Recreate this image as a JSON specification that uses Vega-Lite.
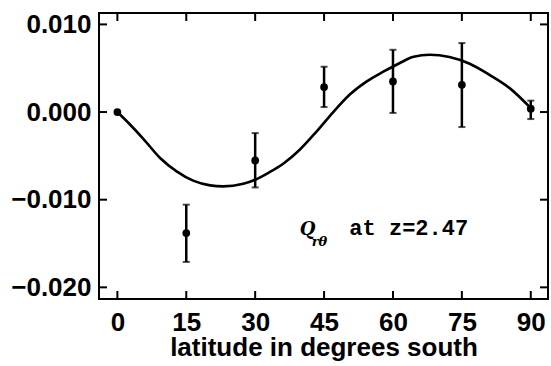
{
  "$schema": "https://vega.github.io/schema/vega-lite/v6.json",
  "width": 449,
  "height": 286,
  "autosize": {"type": "none"},
  "padding": {"left": 99, "top": 13, "right": 3, "bottom": 67},
  "background": "white",
  "config": {
    "view": {"stroke": "black", "strokeWidth": 2},
    "axis": {
      "domain": false,
      "grid": false,
      "ticks": false,
      "labelFont": "Liberation Sans",
      "labelFontWeight": "bold",
      "labelFontSize": 26,
      "labelColor": "black",
      "titleFont": "Liberation Sans",
      "titleFontWeight": "bold",
      "titleFontSize": 26,
      "titleColor": "black"
    }
  },
  "datasets": {
    "curve": [
      {"lat": 0, "q": 0},
      {"lat": 2.8, "q": -0.00145},
      {"lat": 5.7, "q": -0.00308},
      {"lat": 9.3, "q": -0.00524},
      {"lat": 12.9, "q": -0.00677},
      {"lat": 16.5, "q": -0.00783},
      {"lat": 20.2, "q": -0.00837},
      {"lat": 23, "q": -0.00848},
      {"lat": 27.4, "q": -0.00818},
      {"lat": 30, "q": -0.00772},
      {"lat": 33, "q": -0.0069},
      {"lat": 36.1, "q": -0.0059},
      {"lat": 39.7, "q": -0.0043},
      {"lat": 43.4, "q": -0.0022},
      {"lat": 47, "q": 0.0},
      {"lat": 50.6, "q": 0.002},
      {"lat": 54.3, "q": 0.0035},
      {"lat": 57.9, "q": 0.0046},
      {"lat": 61.5, "q": 0.0056},
      {"lat": 64.5, "q": 0.0063},
      {"lat": 68, "q": 0.00653},
      {"lat": 72.3, "q": 0.00627},
      {"lat": 76.7, "q": 0.00551},
      {"lat": 81, "q": 0.00425},
      {"lat": 85.4, "q": 0.00273},
      {"lat": 90, "q": 0.00045}
    ],
    "pts": [
      {"lat": 0, "q": 0.0},
      {"lat": 15, "q": -0.0138},
      {"lat": 30, "q": -0.00552},
      {"lat": 45, "q": 0.00285},
      {"lat": 60, "q": 0.00349},
      {"lat": 75, "q": 0.00311},
      {"lat": 90, "q": 0.00038}
    ],
    "err": [
      {"lat": 15, "lo": -0.0171, "hi": -0.01057},
      {"lat": 30, "lo": -0.0086, "hi": -0.0024},
      {"lat": 45, "lo": 0.00057, "hi": 0.00517},
      {"lat": 60, "lo": -0.0001, "hi": 0.0071},
      {"lat": 75, "lo": -0.00171, "hi": 0.00787},
      {"lat": 90, "lo": -0.0008, "hi": 0.0013}
    ],
    "xticks": [
      {"lat": 0, "a": -0.02133, "b": -0.02042}, {"lat": 15, "a": -0.02133, "b": -0.02042},
      {"lat": 30, "a": -0.02133, "b": -0.02042}, {"lat": 45, "a": -0.02133, "b": -0.02042},
      {"lat": 60, "a": -0.02133, "b": -0.02042}, {"lat": 75, "a": -0.02133, "b": -0.02042},
      {"lat": 90, "a": -0.02133, "b": -0.02042},
      {"lat": 0, "a": 0.0113, "b": 0.01039}, {"lat": 15, "a": 0.0113, "b": 0.01039},
      {"lat": 30, "a": 0.0113, "b": 0.01039}, {"lat": 45, "a": 0.0113, "b": 0.01039},
      {"lat": 60, "a": 0.0113, "b": 0.01039}, {"lat": 75, "a": 0.0113, "b": 0.01039},
      {"lat": 90, "a": 0.0113, "b": 0.01039}
    ],
    "yticks": [
      {"q": -0.02, "a": -4, "b": -2.26}, {"q": -0.01, "a": -4, "b": -2.26},
      {"q": 0, "a": -4, "b": -2.26}, {"q": 0.01, "a": -4, "b": -2.26},
      {"q": -0.02, "a": 93.75, "b": 92.01}, {"q": -0.01, "a": 93.75, "b": 92.01},
      {"q": 0, "a": 93.75, "b": 92.01}, {"q": 0.01, "a": 93.75, "b": 92.01}
    ]
  },
  "layer": [
    {
      "data": {"name": "curve"},
      "mark": {"type": "line", "color": "black", "strokeWidth": 2.6, "interpolate": "monotone"},
      "encoding": {
        "x": {"field": "lat", "type": "quantitative",
              "scale": {"domain": [-4, 93.75], "nice": false, "zero": false},
              "axis": {"orient": "bottom", "values": [0, 15, 30, 45, 60, 75, 90], "labelPadding": 10, "title": "latitude in degrees south", "titlePadding": -1}},
        "y": {"field": "q", "type": "quantitative",
              "scale": {"domain": [-0.02133, 0.0113], "nice": false, "zero": false},
              "axis": {"orient": "left", "values": [-0.02, -0.01, 0, 0.01], "format": ".3f", "labelPadding": 8, "title": null}}
      }
    },
    {
      "data": {"name": "xticks"},
      "mark": {"type": "rule", "color": "black", "strokeWidth": 2},
      "encoding": {
        "x": {"field": "lat", "type": "quantitative", "axis": null},
        "y": {"field": "a", "type": "quantitative", "axis": null},
        "y2": {"field": "b"}
      }
    },
    {
      "data": {"name": "yticks"},
      "mark": {"type": "rule", "color": "black", "strokeWidth": 2},
      "encoding": {
        "x": {"field": "a", "type": "quantitative", "axis": null},
        "x2": {"field": "b"},
        "y": {"field": "q", "type": "quantitative", "axis": null}
      }
    },
    {
      "data": {"name": "err"},
      "mark": {"type": "rule", "color": "black", "strokeWidth": 2.5},
      "encoding": {
        "x": {"field": "lat", "type": "quantitative", "axis": null},
        "y": {"field": "lo", "type": "quantitative", "axis": null},
        "y2": {"field": "hi"}
      }
    },
    {
      "data": {"name": "err"},
      "mark": {"type": "tick", "color": "black", "orient": "horizontal", "size": 7, "thickness": 2},
      "encoding": {
        "x": {"field": "lat", "type": "quantitative", "axis": null},
        "y": {"field": "lo", "type": "quantitative", "axis": null}
      }
    },
    {
      "data": {"name": "err"},
      "mark": {"type": "tick", "color": "black", "orient": "horizontal", "size": 7, "thickness": 2},
      "encoding": {
        "x": {"field": "lat", "type": "quantitative", "axis": null},
        "y": {"field": "hi", "type": "quantitative", "axis": null}
      }
    },
    {
      "data": {"name": "pts"},
      "mark": {"type": "point", "filled": true, "color": "black", "opacity": 1, "size": 60},
      "encoding": {
        "x": {"field": "lat", "type": "quantitative", "axis": null},
        "y": {"field": "q", "type": "quantitative", "axis": null}
      }
    },
    {
      "data": {"values": [{"lat": 39.7, "q": -0.014, "t": "Q"}]},
      "mark": {"type": "text", "align": "left", "baseline": "alphabetic", "font": "DejaVu Serif", "fontStyle": "italic", "fontWeight": "bold", "fontSize": 18, "color": "black"},
      "encoding": {
        "x": {"field": "lat", "type": "quantitative", "axis": null},
        "y": {"field": "q", "type": "quantitative", "axis": null},
        "text": {"field": "t"}
      }
    },
    {
      "data": {"values": [{"lat": 42.3, "q": -0.0153, "t": "rθ"}]},
      "mark": {"type": "text", "align": "left", "baseline": "alphabetic", "font": "DejaVu Serif", "fontStyle": "italic", "fontWeight": "bold", "fontSize": 13, "color": "black"},
      "encoding": {
        "x": {"field": "lat", "type": "quantitative", "axis": null},
        "y": {"field": "q", "type": "quantitative", "axis": null},
        "text": {"field": "t"}
      }
    },
    {
      "data": {"values": [{"lat": 50.5, "q": -0.014, "t": "at z=2.47"}]},
      "mark": {"type": "text", "align": "left", "baseline": "alphabetic", "font": "Liberation Mono", "fontWeight": "bold", "fontSize": 22, "color": "black"},
      "encoding": {
        "x": {"field": "lat", "type": "quantitative", "axis": null},
        "y": {"field": "q", "type": "quantitative", "axis": null},
        "text": {"field": "t"}
      }
    }
  ],
  "resolve": {"axis": {"x": "independent", "y": "independent"}}
}
